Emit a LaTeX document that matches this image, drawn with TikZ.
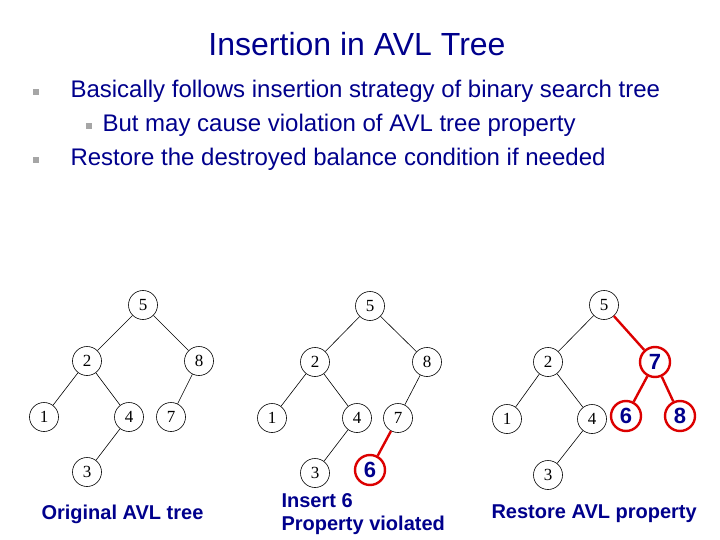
\documentclass[tikz,border=0pt]{standalone}
\usepackage{fontspec}
\setmainfont{Liberation Sans}
\newfontfamily\serifnode{Liberation Serif}
\definecolor{navy}{RGB}{0,0,140}
\definecolor{tred}{RGB}{220,0,0}
\begin{document}
\begin{tikzpicture}[x=1pt,y=-1pt,
  tn/.style={circle,draw,line width=0.6pt,minimum size=29pt,inner sep=0pt,font=\serifnode\fontsize{17}{17}\selectfont},
  rn/.style={circle,draw=tred,line width=2.4pt,minimum size=30pt,inner sep=0pt,text=navy,font=\bfseries\fontsize{22}{22}\selectfont},
  te/.style={line width=0.6pt},
  re/.style={draw=tred,line width=2.4pt},
  captext/.style={text=navy,font=\bfseries\fontsize{20}{23}\selectfont,align=left,anchor=west},
  bl/.style={fill=gray!70,minimum size=6pt,inner sep=0pt},
  tx/.style={anchor=west,font=\fontsize{24}{28}\selectfont,text=navy}]
\useasboundingbox (0,0) rectangle (720,540);
\node (title) at (357,44) {\fontsize{32}{36}\selectfont\color{navy}Insertion in AVL Tree};
\node[bl] (b1) at (36,92) {};
\node[tx] (t1) at (67,91) {Basically follows insertion strategy of binary search tree};
\node[bl] (b2) at (89,126) {};
\node[tx] (t2) at (99,125) {But may cause violation of AVL tree property};
\node[bl] (b3) at (36,160) {};
\node[tx] (t3) at (67,159) {Restore the destroyed balance condition if needed};
% left tree
\node[tn] (a5) at (143,305) {5};
\node[tn] (a2) at (87,361) {2};
\node[tn] (a8) at (199,361) {8};
\node[tn] (a1) at (44,417) {1};
\node[tn] (a4) at (129,417) {4};
\node[tn] (a7) at (171,417) {7};
\node[tn] (a3) at (87,472) {3};
\draw[te] (a5)--(a2) (a5)--(a8) (a2)--(a1) (a2)--(a4) (a8)--(a7) (a4)--(a3);
\node[captext] (c1) at (38,514) {Original AVL tree};
% middle tree
\node[tn] (m5) at (370,306) {5};
\node[tn] (m2) at (315,362) {2};
\node[tn] (m8) at (427,362) {8};
\node[tn] (m1) at (272,418) {1};
\node[tn] (m4) at (357,418) {4};
\node[tn] (m7) at (398,418) {7};
\node[tn] (m3) at (315,473) {3};
\node[rn] (m6) at (370,470) {6};
\draw[te] (m5)--(m2) (m5)--(m8) (m2)--(m1) (m2)--(m4) (m8)--(m7) (m4)--(m3);
\draw[re] (m7)--(m6);
\node[captext] (c2) at (278,514) {Insert 6\\Property violated};
% right tree
\node[tn] (r5) at (604,305) {5};
\node[tn] (r2) at (548,362) {2};
\node[rn] (r7) at (655,362) {7};
\node[tn] (r1) at (507,419) {1};
\node[tn] (r4) at (592,419) {4};
\node[rn] (r6) at (626,416) {6};
\node[rn] (r8) at (680,416) {8};
\node[tn] (r3) at (548,475) {3};
\draw[te] (r5)--(r2) (r2)--(r1) (r2)--(r4) (r4)--(r3);
\draw[re] (r5)--(r7) (r7)--(r6) (r7)--(r8);
\node[captext] (c3) at (488,514) {Restore AVL property};
\end{tikzpicture}
\end{document}
